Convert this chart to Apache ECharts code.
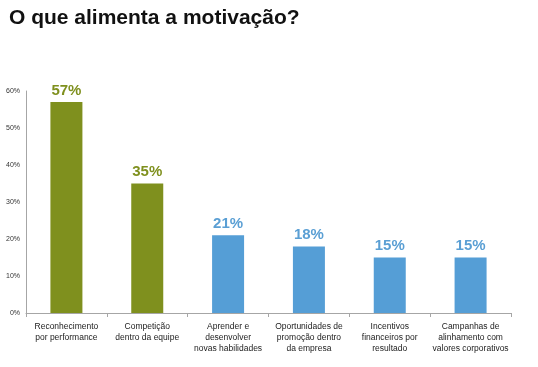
<!DOCTYPE html>
<html><head><meta charset="utf-8">
<script src="https://cdn.jsdelivr.net/npm/echarts@6/dist/echarts.min.js"></script>
<style>html,body{margin:0;padding:0;background:#fff}#c{width:538px;height:367px}</style>
</head><body><div id="c"></div>
<script>
var title = "O que alimenta a motivação?";
var categories = ["Reconhecimento\npor performance", "Competição\ndentro da equipe", "Aprender e\ndesenvolver\nnovas habilidades", "Oportunidades de\npromoção dentro\nda empresa", "Incentivos\nfinanceiros por\nresultado", "Campanhas de\nalinhamento com\nvalores corporativos"];
var values = [57, 35, 21, 18, 15, 15];
var groups = ["green", "green", "blue", "blue", "blue", "blue"];

var barColors = {green: "#7f901e", blue: "#559ed6"};
var labelColors = {green: "#7f901e", blue: "#5a9fd4"};

var chart = echarts.init(document.getElementById('c'), null, {renderer: 'canvas'});
chart.setOption({
  animation: false,
  backgroundColor: '#fff',
  title: {text: title, left: 4, top: 3, textStyle: {fontFamily: 'Liberation Sans, Arial', fontWeight: 'bold', fontSize: 21, color: '#111'}},
  grid: {left: 26, right: 27, top: 91, bottom: 54, containLabel: false},
  xAxis: {
    type: 'category', data: categories,
    axisLine: {lineStyle: {color: '#a6a6a6', width: 1}},
    axisTick: {show: true, length: 4, lineStyle: {color: '#a6a6a6'}},
    axisLabel: {interval: 0, fontFamily: 'Liberation Sans, Arial', fontSize: 8.5, color: '#222', lineHeight: 11, margin: 8}
  },
  yAxis: {
    type: 'value', min: 0, max: 60, interval: 10,
    axisLine: {show: true, lineStyle: {color: '#a6a6a6'}},
    axisTick: {show: false},
    splitLine: {show: false},
    axisLabel: {formatter: '{value}%', fontFamily: 'Liberation Sans, Arial', fontSize: 7, color: '#333', margin: 6}
  },
  series: [{
    type: 'bar', barWidth: 32,
    data: values.map(function (v, i) {
      return {value: v, itemStyle: {color: barColors[groups[i]]},
        label: {color: labelColors[groups[i]]}};
    }),
    label: {show: true, position: 'top', formatter: '{c}%', fontFamily: 'Liberation Sans, Arial', fontWeight: 'bold', fontSize: 15, distance: 4}
  }]
});
</script></body></html>
